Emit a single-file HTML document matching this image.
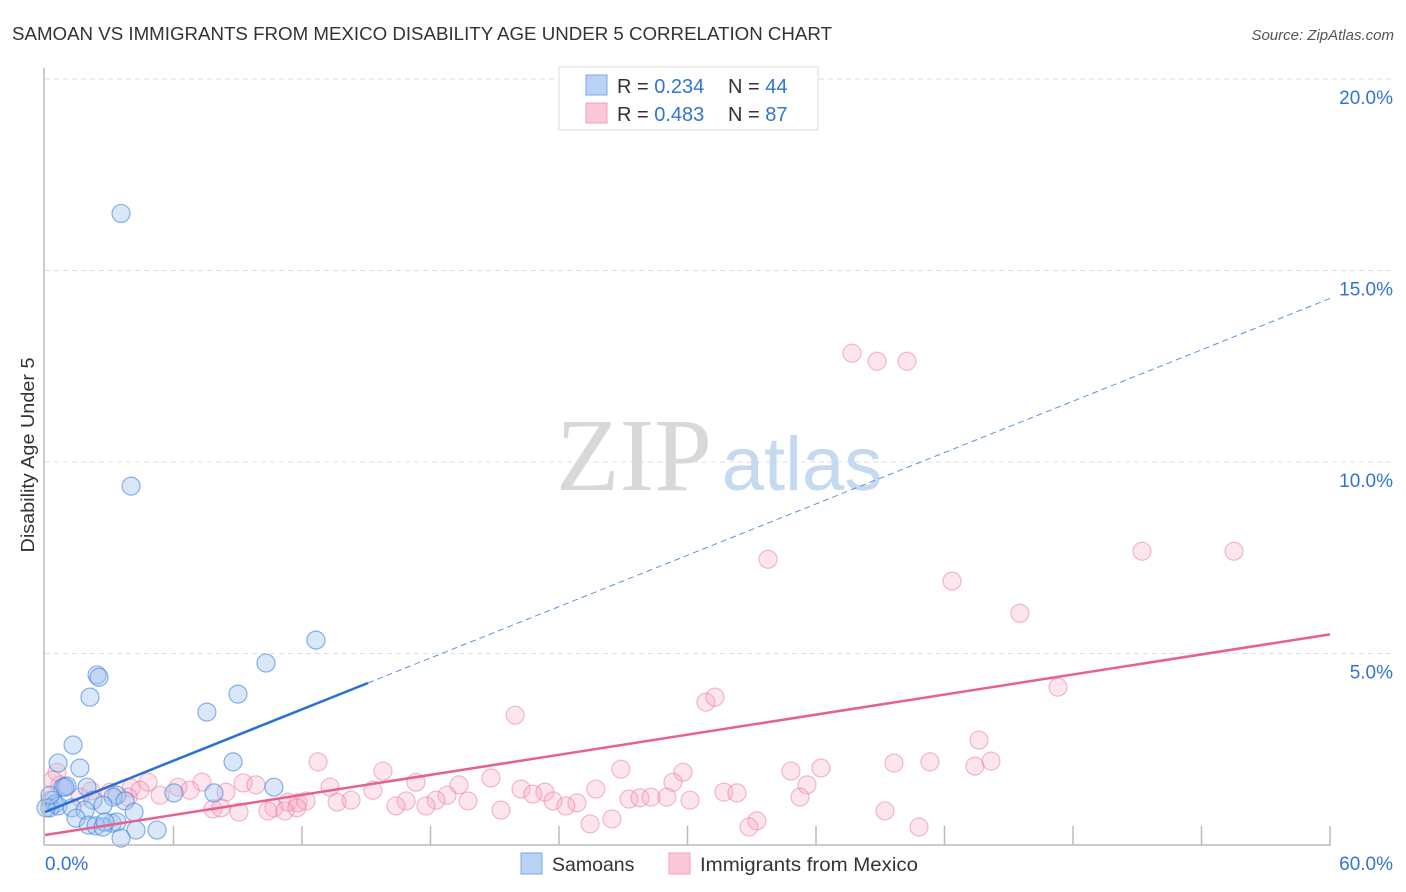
<!DOCTYPE html>
<html><head><meta charset="utf-8"><style>
body{margin:0;background:#fff;font-family:"Liberation Sans",sans-serif;}
svg{display:block}
</style></head><body>
<svg id="chart" width="1406" height="892">
<text x="12" y="40" font-size="18" fill="#333" textLength="820" lengthAdjust="spacingAndGlyphs">SAMOAN VS IMMIGRANTS FROM MEXICO DISABILITY AGE UNDER 5 CORRELATION CHART</text>
<text x="1394" y="40" font-size="15" fill="#555" font-style="italic" text-anchor="end">Source: ZipAtlas.com</text>
<text x="34" y="455" font-size="18" fill="#333" text-anchor="middle" textLength="195" lengthAdjust="spacingAndGlyphs" transform="rotate(-90 34 455)">Disability Age Under 5</text>
<g id="grid"></g>
<g>
<text x="634" y="490" font-size="104" font-family="Liberation Serif,serif" fill="#d8d8d8" text-anchor="middle">ZIP</text>
<text x="802" y="490" font-size="76" fill="#c5d9f0" text-anchor="middle">atlas</text>
</g>
<g id="pts"></g>
<g id="lines"></g>
<g id="axes"></g>
<g>
<rect x="559" y="67" width="259" height="63" fill="#fff" stroke="#ddd"/>
<rect x="586" y="75" width="21" height="20" fill="#b8d3f5" stroke="#7aa9e6"/>
<rect x="586" y="103" width="21" height="20" fill="#fcc8d8" stroke="#f0a0b8"/>
<text x="617" y="93" font-size="20" fill="#333">R = <tspan fill="#3373d6">0.234</tspan></text>
<text x="728" y="93" font-size="20" fill="#333">N = <tspan fill="#3373d6">44</tspan></text>
<text x="617" y="121" font-size="20" fill="#333">R = <tspan fill="#3373d6">0.483</tspan></text>
<text x="728" y="121" font-size="20" fill="#333">N = <tspan fill="#3373d6"> 87</tspan></text>
</g>
<g>
<rect x="521" y="853" width="21" height="21" fill="#b8d3f5" stroke="#7aa9e6"/>
<text x="552" y="871" font-size="19.5" fill="#333">Samoans</text>
<rect x="669" y="853" width="21" height="21" fill="#fcc8d8" stroke="#f0a0b8"/>
<text x="700" y="871" font-size="19.5" fill="#333" textLength="218" lengthAdjust="spacingAndGlyphs">Immigrants from Mexico</text>
</g>
</svg>
<script>
const xTicks=[0,6,12,18,24,30,36,42,48,54,60];
const yTicks=[5,10,15,20];
const yTickLabels=["5.0%","10.0%","15.0%","20.0%"];
const xEndLabels=["0.0%","60.0%"];
const samoanX=[3.55,4.02,12.65,10.32,9.01,7.56,2.43,2.52,2.10,1.31,0.61,8.78,1.63,10.69,7.89,6.02,0.84,1.03,1.96,3.36,3.18,3.74,2.24,2.71,0.37,0.47,0.23,0.61,1.26,1.87,4.16,1.45,2.03,3.13,3.36,2.38,2.71,4.25,5.23,3.55,0.05,0.23,0.93,2.8];
const samoanY=[16.49,9.37,5.35,4.75,3.94,3.47,4.44,4.38,3.86,2.61,2.14,2.17,2.01,1.51,1.36,1.36,1.51,1.54,1.51,1.30,1.25,1.15,1.17,1.04,1.17,1.07,0.97,1.02,0.97,0.91,0.86,0.70,0.52,0.57,0.60,0.50,0.47,0.39,0.39,0.18,0.97,1.30,1.51,0.6];
const mexX=[37.68,38.85,40.25,33.76,51.22,55.52,42.35,45.52,47.30,30.86,31.28,21.95,43.61,12.75,15.78,26.89,29.79,34.83,36.23,39.64,41.32,43.42,44.17,0.56,0.7,13.31,17.32,19.33,20.82,4.81,6.21,7.33,9.25,9.85,15.31,18.77,22.23,23.34,25.72,29.32,31.70,32.31,35.58,35.25,4.02,3.04,2.15,4.44,5.37,6.77,8.45,13.64,14.29,16.86,18.26,19.75,22.78,23.72,24.84,27.27,27.78,28.30,29.04,30.12,11.34,11.81,12.19,10.69,11.20,11.76,7.84,8.21,9.06,10.41,16.39,17.79,21.29,24.32,26.47,25.45,33.24,32.87,39.22,40.81,3.88,1.63,0.23,0.37];
const mexY=[12.84,12.63,12.63,7.46,7.67,7.67,6.89,6.05,4.12,3.73,3.86,3.39,2.74,2.17,1.93,1.98,1.90,1.93,2.01,2.14,2.17,2.06,2.19,1.90,1.57,1.51,1.64,1.57,1.75,1.64,1.51,1.64,1.62,1.57,1.43,1.30,1.46,1.38,1.46,1.64,1.38,1.36,1.57,1.25,1.49,1.38,1.41,1.43,1.30,1.43,1.38,1.12,1.17,1.15,1.17,1.15,1.33,1.15,1.10,1.20,1.23,1.25,1.25,1.17,1.12,1.10,1.15,0.97,0.89,0.97,0.94,0.97,0.86,0.89,1.02,1.02,0.91,1.02,0.68,0.55,0.63,0.47,0.89,0.47,1.25,1.25,1.17,1.70];
const samoanTrend=[0.86,14.27], samoanSolidEnd=15.08;
const mexTrend=[0.26,5.5];
const NS="http://www.w3.org/2000/svg";
const X=v=>45+v*(1330-45)/60, Y=v=>845-v*(845-79)/20;
function mk(tag,attrs,parent){const e=document.createElementNS(NS,tag);for(const k in attrs)e.setAttribute(k,attrs[k]);document.getElementById(parent).appendChild(e);return e;}
yTicks.forEach((t,i)=>{
 const g=mk('line',{x1:45,x2:1395,y1:Y(t),y2:Y(t),stroke:'#ddd','stroke-dasharray':'5,4'},'grid');
 
 
 const l=mk('text',{x:1393,y:Y(t)+25,'font-size':19,fill:'#3373d6','text-anchor':'end'},'axes');
 l.textContent=yTickLabels[i];
 
 
});
mk('line',{x1:44,x2:44,y1:68,y2:845,stroke:'#bbb','stroke-width':1.5},'axes');
mk('line',{x1:44,x2:1331,y1:845,y2:845,stroke:'#bbb','stroke-width':1.5},'axes');
xTicks.forEach(t=>{if(t===0)return;const e=mk('line',{x1:X(t),x2:X(t),y1:826,y2:845,stroke:'#bbb','stroke-width':1.5},'axes');
 
 });
const xl0=mk('text',{x:45,y:870,'font-size':19,fill:'#3373d6'},'axes');xl0.textContent=xEndLabels[0];


const xl1=mk('text',{x:1393,y:870,'font-size':19,fill:'#3373d6','text-anchor':'end'},'axes');xl1.textContent=xEndLabels[1];


mexX.forEach((v,i)=>{const c=mk('circle',{cx:X(v),cy:Y(mexY[i]),r:9,fill:'rgba(248,170,195,0.3)',stroke:'rgba(232,120,160,0.5)','stroke-width':1.2},'pts');
 
 });
samoanX.forEach((v,i)=>{const c=mk('circle',{cx:X(v),cy:Y(samoanY[i]),r:9,fill:'rgba(160,195,240,0.4)',stroke:'rgba(60,130,220,0.6)','stroke-width':1.2},'pts');
 
 });
const sy=x=>samoanTrend[0]+(samoanTrend[1]-samoanTrend[0])*x/60;
const l1=mk('line',{x1:X(0),y1:Y(sy(0)),x2:X(samoanSolidEnd),y2:Y(sy(samoanSolidEnd)),stroke:'#2a6fd6','stroke-width':2.5},'lines');


const l2=mk('line',{x1:X(samoanSolidEnd),y1:Y(sy(samoanSolidEnd)),x2:X(60),y2:Y(sy(60)),stroke:'#5b92dd','stroke-width':1,'stroke-dasharray':'6,4'},'lines');


const l3=mk('line',{x1:X(0),y1:Y(mexTrend[0]),x2:X(60),y2:Y(mexTrend[1]),stroke:'#e8608e','stroke-width':2.5},'lines');


</script>
</body></html>
